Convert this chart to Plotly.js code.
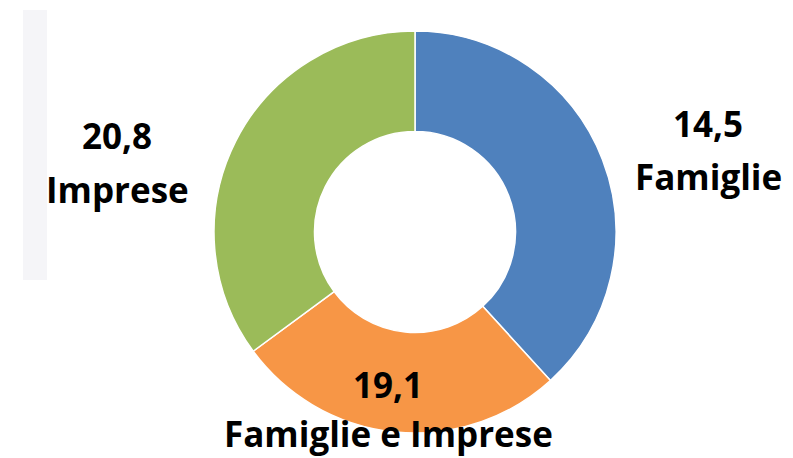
<!DOCTYPE html>
<html>
<head>
<meta charset="utf-8">
<script src="https://cdn.plot.ly/plotly-3.0.1.min.js"></script>
<style>html,body{margin:0;padding:0;background:#fff;}#chart{width:793px;height:458px;}</style>
</head>
<body>
<div id="chart"></div>
<script>
// Slice sizes as drawn (clockwise from 12 o'clock)
const sliceNames = ["Blu", "Arancio", "Verde"];
const sliceValues = [20.8, 14.5, 19.1];
const sliceColors = ["#4F81BD", "#F79646", "#9BBB59"];

// Labels shown next to the ring
const labelValues = ["14,5", "19,1", "20,8"];
const labelNames = ["Famiglie", "Famiglie e Imprese", "Imprese"];
const labelX = [708, 388, 117];
const valueY = [126, 386, 137];
const nameY = [178, 435, 191];

const W = 793, H = 458;
const cx = 415, cy = 232, R = 201;
const FONT = {family: "Open Sans, sans-serif", size: 35, color: "#000"};

const trace = {
  type: "pie",
  labels: sliceNames,
  values: sliceValues,
  marker: {colors: sliceColors, line: {color: "#ffffff", width: 1.5}},
  hole: 0.5,
  sort: false,
  direction: "clockwise",
  rotation: 0,
  textinfo: "none",
  hoverinfo: "label+value",
  domain: {x: [(cx - R) / W, (cx + R) / W], y: [(H - cy - R) / H, (H - cy + R) / H]},
  showlegend: false
};

const annotations = [];
labelNames.forEach((n, i) => {
  annotations.push({
    x: labelX[i] / W, y: 1 - (valueY[i] - 2) / H, xref: "paper", yref: "paper",
    xanchor: "center", yanchor: "middle", showarrow: false,
    text: "<b>" + labelValues[i] + "</b>", font: FONT
  });
  annotations.push({
    x: labelX[i] / W, y: 1 - (nameY[i] - 2) / H, xref: "paper", yref: "paper",
    xanchor: "center", yanchor: "middle", showarrow: false,
    text: "<b>" + n + "</b>", font: FONT
  });
});

const layout = {
  width: W, height: H,
  margin: {l: 0, r: 0, t: 0, b: 0},
  paper_bgcolor: "#ffffff",
  annotations: annotations,
  shapes: [{type: "rect", xref: "paper", yref: "paper", x0: 23 / W, x1: 47 / W, y0: 1 - 280 / H, y1: 1 - 10 / H,
    fillcolor: "#f5f5f8", line: {width: 0}, layer: "below"}]
};

Plotly.newPlot("chart", [trace], layout, {displayModeBar: false, staticPlot: true});
</script>
</body>
</html>
